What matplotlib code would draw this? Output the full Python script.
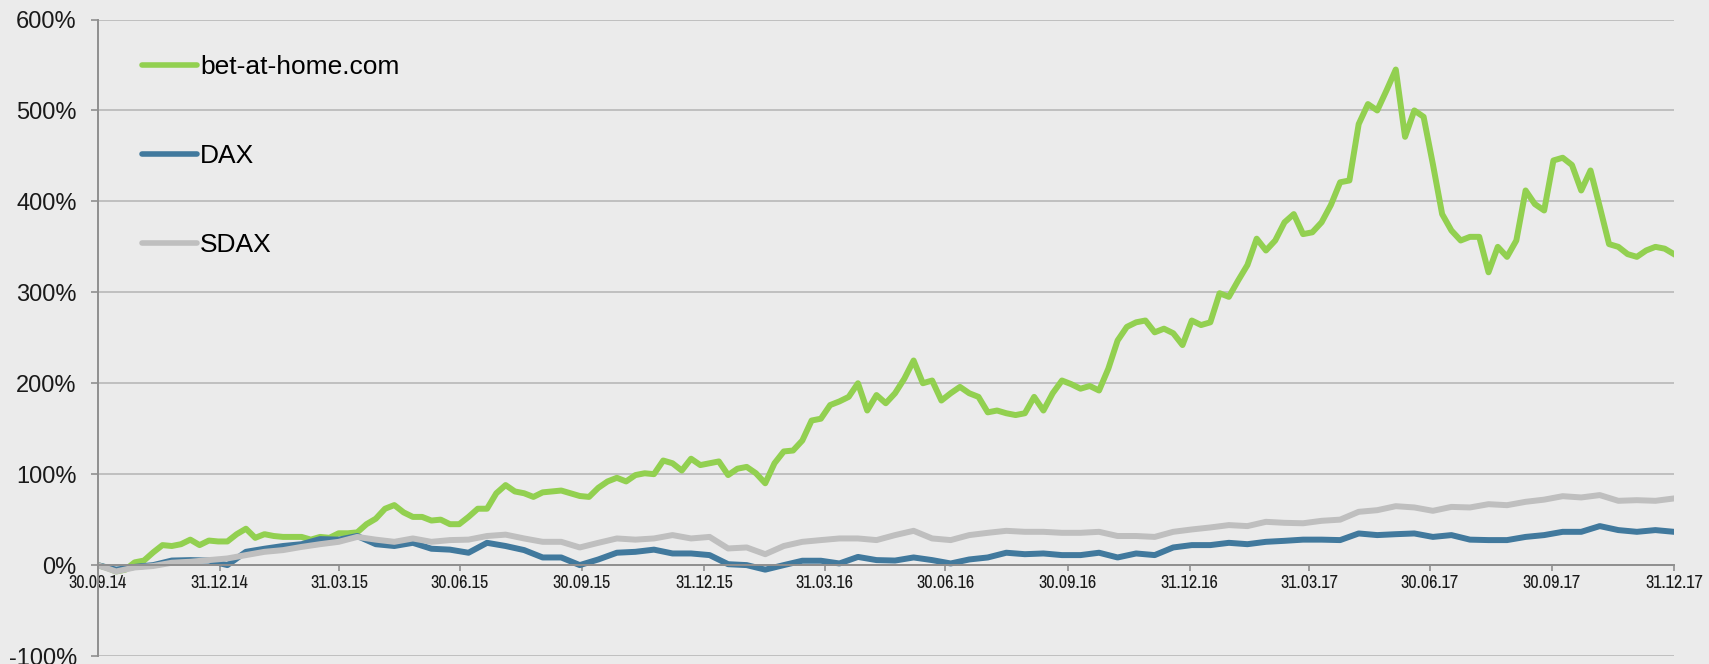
import numpy as np
import pandas as pd
import matplotlib
matplotlib.use("Agg")
import matplotlib.pyplot as plt
from matplotlib import font_manager

# quarter-end ticks on the date axis
tick_dates = ["2014-09-30", "2014-12-31", "2015-03-31", "2015-06-30", "2015-09-30",
              "2015-12-31", "2016-03-31", "2016-06-30", "2016-09-30", "2016-12-31",
              "2017-03-31", "2017-06-30", "2017-09-30", "2017-12-31"]
tick_labels = ["30.09.14", "31.12.14", "31.03.15", "30.06.15", "30.09.15",
               "31.12.15", "31.03.16", "30.06.16", "30.09.16", "31.12.16",
               "31.03.17", "30.06.17", "30.09.17", "31.12.17"]

y_ticks = [-100, 0, 100, 200, 300, 400, 500, 600]

# weekly readings, performance in % since 30.09.14
bah = [0, -3, -7, -5, 3, 5, 14, 22, 21, 23,
       28, 22, 27, 26, 26, 34, 40, 30, 34, 32,
       31, 31, 31, 28, 31, 30, 35, 35, 36, 45,
       51, 62, 66, 58, 53, 53, 49, 50, 45, 45,
       53, 62, 62, 79, 88, 81, 79, 75, 80, 81,
       82, 79, 76, 75, 85, 92, 96, 92, 99, 101,
       100, 115, 112, 104, 117, 110, 112, 114, 99, 106,
       108, 101, 90, 112, 125, 126, 137, 159, 161, 176,
       180, 185, 200, 170, 187, 178, 189, 205, 225, 200,
       203, 181, 189, 196, 189, 185, 168, 170, 167, 165,
       167, 185, 170, 189, 203, 199, 194, 197, 192, 216,
       247, 262, 267, 269, 256, 260, 255, 242, 269, 264,
       267, 299, 295, 313, 330, 359, 346, 357, 377, 386,
       364, 366, 377, 396, 421, 423, 485, 507, 500, 522,
       545, 471, 500, 493, 441, 386, 368, 357, 361, 361,
       322, 350, 339, 357, 412, 397, 390, 445, 448, 440,
       412, 434, 394, 353, 350, 342, 339, 346, 350, 348,
       342]

# two-weekly readings for the indices
dax = [0, -5, -2, 0, 5, 5.5, 5, 0, 14.6, 18,
       21, 23, 28.6, 28, 32, 23, 21, 24.5, 18, 17,
       13.6, 24.5, 21, 16.5, 8.4, 8.4, 0, 6.2, 13.6, 14.6,
       17, 12.8, 12.8, 11, 1, 0, -5, 0, 4.8, 4.8,
       1.8, 9, 5.5, 5, 8.4, 5.5, 1.8, 6.2, 8.4, 13.6,
       12, 12.8, 11, 11, 13.6, 8.4, 12.8, 11, 19.4, 22,
       22, 24.5, 23, 25.6, 26.7, 28, 28, 27.5, 34.8, 33,
       34, 34.8, 31, 33, 28, 27.5, 27.5, 31, 33, 36.6,
       36.6, 42.9, 38.5, 36.6, 38.5, 36.6]

sdax = [0, -7, -2.6, -1, 2.6, 3.7, 5.5, 7.3, 11, 14.6,
        16.5, 20, 23, 25.6, 31, 28, 25.6, 29.3, 25.6, 27.5,
        28, 32, 33.5, 29.3, 25.6, 25.6, 19.4, 24.5, 29.3, 28,
        29.3, 33, 29.3, 31, 18.3, 19.4, 12, 21, 25.6, 27.5,
        29.3, 29.3, 27.5, 33, 37.7, 29.3, 27.5, 33, 35.5, 37.7,
        36.6, 36.6, 35.5, 35.5, 36.6, 32, 32, 31, 36.6, 39.2,
        41.4, 44, 42.9, 47.6, 46.5, 46, 48.7, 50, 58.6, 60.4,
        64.8, 63.4, 59.7, 64, 63.4, 67, 65.9, 69.6, 72, 75.8,
        74.4, 77, 70.7, 71.4, 70.7, 73.3]

weeks = pd.date_range("2014-09-30", "2017-12-31", periods=len(bah))
fortnights = pd.date_range("2014-09-30", "2017-12-31", periods=len(dax))

bg = "#EBEBEB"
grid_col = "#BFBFBF"
axis_col = "#8F8F8F"

# x labels in the reference use a condensed face; take one if it is there
installed = {f.name for f in font_manager.fontManager.ttflist}
narrow = "Liberation Sans"
for cand in ["Arial Narrow", "Liberation Sans Narrow", "Archivo Narrow", "Roboto Condensed"]:
    if cand in installed:
        narrow = cand
        break

plt.rcParams["font.family"] = ["Liberation Sans", "DejaVu Sans"]

fig = plt.figure(figsize=(17.09, 6.64), dpi=100, facecolor=bg)

# size the x labels so that one label is about 58 px wide
probe = fig.text(0, 0, "31.12.14", family=narrow, fontsize=10)
fig.canvas.draw()
x_size = 10 * 58 / probe.get_window_extent().width
x_size = min(max(x_size, 11.5), 13.5)
probe.remove()

ax = fig.add_axes([0.0571, 0.012, 0.9224, 0.9586], facecolor=bg)

ax.plot(weeks, bah, color="#92D050", lw=4.3, label="bet-at-home.com", solid_joinstyle="round")
ax.plot(fortnights, dax, color="#41799D", lw=4.3, label="DAX", solid_joinstyle="round")
ax.plot(fortnights, sdax, color="#BFBFBF", lw=4.3, label="SDAX", solid_joinstyle="round")

ax.set_xlim(pd.Timestamp(tick_dates[0]), pd.Timestamp(tick_dates[-1]))
ax.set_ylim(-100, 600)

# spines first: moving a spine rebuilds the ticks
for s in ["top", "right"]:
    ax.spines[s].set_visible(False)
ax.spines["bottom"].set_position(("data", 0))
ax.spines["bottom"].set_color(axis_col)
ax.spines["bottom"].set_linewidth(1.4)
ax.spines["left"].set_color(axis_col)
ax.spines["left"].set_linewidth(1.4)

ax.set_yticks(y_ticks)
ax.set_yticklabels([f"{v}%" for v in y_ticks], fontsize=17, color="#1A1A1A")
ax.set_xticks(pd.to_datetime(tick_dates))
ax.set_xticklabels(tick_labels, family=[narrow, "DejaVu Sans"], fontsize=x_size, color="#1A1A1A")

ax.grid(axis="y", color=grid_col, lw=1.4)
ax.set_axisbelow(True)

ax.tick_params(axis="y", length=5, width=1.2, color=axis_col, pad=10)
ax.tick_params(axis="x", length=4, width=1.2, color=axis_col, pad=3)

leg = ax.legend(loc="upper left", bbox_to_anchor=(0.0831, 0.917), bbox_transform=fig.transFigure,
                frameon=False, fontsize=19, handlelength=2.08, handletextpad=0.12,
                labelspacing=2.46, borderpad=0, borderaxespad=0)
for h in leg.get_lines():
    h.set_solid_capstyle("round")
    h.set_linewidth(4.0)

fig.savefig("out.png", dpi=100, facecolor=bg)
